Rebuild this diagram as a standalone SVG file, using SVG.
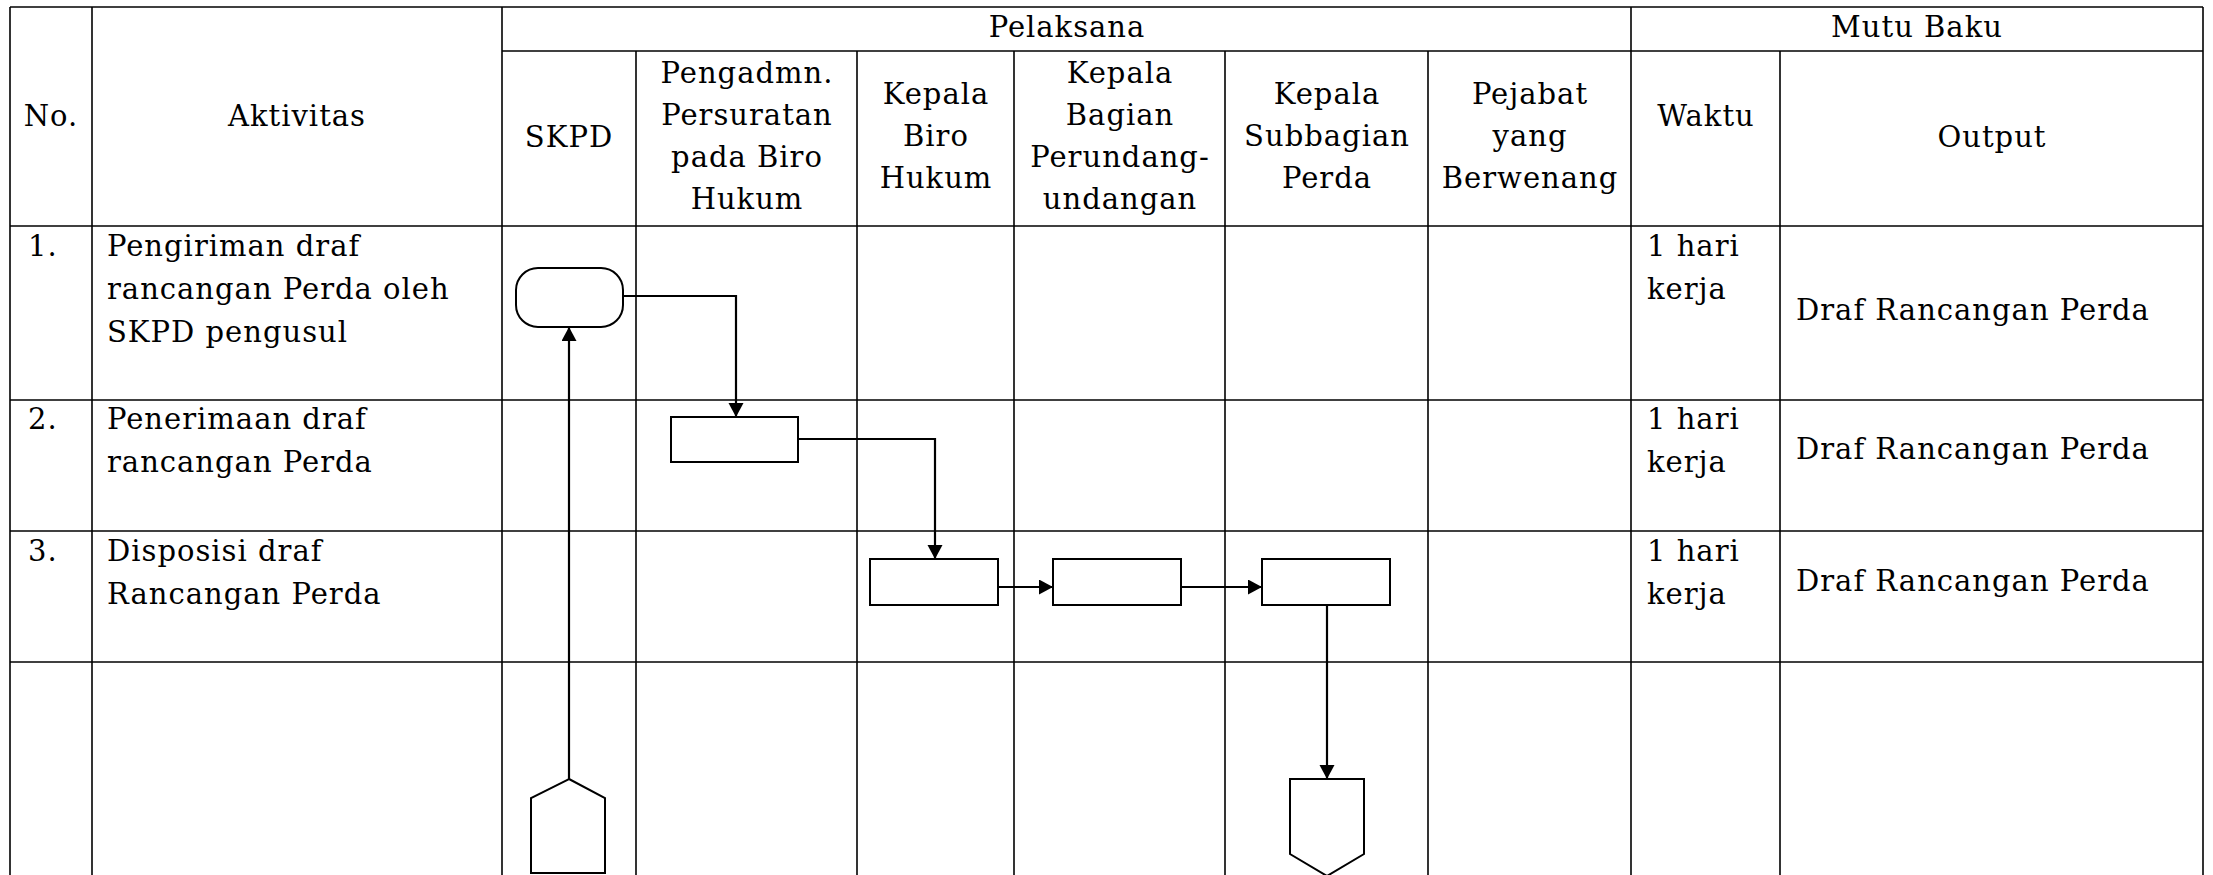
<svg xmlns="http://www.w3.org/2000/svg" width="2213" height="875" viewBox="0 0 2213 875">
  <style>
    .grid { stroke: #000; stroke-width: 1.6; fill: none; }
    .shape { stroke: #000; stroke-width: 2; fill: #fff; }
    .conn { stroke: #000; stroke-width: 2.2; fill: none; }
    text { font-family: "DejaVu Serif", "Liberation Serif", serif; font-size: 29px; letter-spacing: 1px; fill: #000; }
    .c { text-anchor: middle; }
  </style>
  <defs>
    <marker id="arrow" markerUnits="userSpaceOnUse" markerWidth="16" markerHeight="16" refX="14" refY="7.5" orient="auto">
      <path d="M0,0 L14,7.5 L0,15 Z" fill="#000"/>
    </marker>
  </defs>

  <rect width="2213" height="875" fill="#fff"/>

  <!-- table rules -->
  <g id="table" class="grid">
    <line x1="10" y1="7" x2="2203" y2="7"/>
    <line x1="502" y1="51" x2="2203" y2="51"/>
    <line x1="10" y1="226" x2="2203" y2="226"/>
    <line x1="10" y1="400" x2="2203" y2="400"/>
    <line x1="10" y1="531" x2="2203" y2="531"/>
    <line x1="10" y1="662" x2="2203" y2="662"/>
    <line x1="10" y1="7" x2="10" y2="875"/>
    <line x1="92" y1="7" x2="92" y2="875"/>
    <line x1="502" y1="7" x2="502" y2="875"/>
    <line x1="636" y1="51" x2="636" y2="875"/>
    <line x1="857" y1="51" x2="857" y2="875"/>
    <line x1="1014" y1="51" x2="1014" y2="875"/>
    <line x1="1225" y1="51" x2="1225" y2="875"/>
    <line x1="1428" y1="51" x2="1428" y2="875"/>
    <line x1="1631" y1="7" x2="1631" y2="875"/>
    <line x1="1780" y1="51" x2="1780" y2="875"/>
    <line x1="2203" y1="7" x2="2203" y2="875"/>
  </g>

  <!-- column headings -->
  <g id="header">
    <text class="c" x="51" y="126">No.</text>
    <text class="c" x="297" y="126">Aktivitas</text>
    <text class="c" x="1067" y="37">Pelaksana</text>
    <text class="c" x="1917" y="37">Mutu Baku</text>
    <text class="c" x="569" y="147">SKPD</text>
    <text class="c" x="747" y="83">Pengadmn.</text>
    <text class="c" x="747" y="125">Persuratan</text>
    <text class="c" x="747" y="167">pada Biro</text>
    <text class="c" x="747" y="209">Hukum</text>
    <text class="c" x="936" y="104">Kepala</text>
    <text class="c" x="936" y="146">Biro</text>
    <text class="c" x="936" y="188">Hukum</text>
    <text class="c" x="1120" y="83">Kepala</text>
    <text class="c" x="1120" y="125">Bagian</text>
    <text class="c" x="1120" y="167">Perundang-</text>
    <text class="c" x="1120" y="209">undangan</text>
    <text class="c" x="1327" y="104">Kepala</text>
    <text class="c" x="1327" y="146">Subbagian</text>
    <text class="c" x="1327" y="188">Perda</text>
    <text class="c" x="1530" y="104">Pejabat</text>
    <text class="c" x="1530" y="146">yang</text>
    <text class="c" x="1530" y="188">Berwenang</text>
    <text class="c" x="1706" y="126">Waktu</text>
    <text class="c" x="1992" y="147">Output</text>
  </g>

  <!-- activity rows -->
  <g id="row1">
    <text x="28" y="256">1.</text>
    <text x="107" y="256">Pengiriman draf</text>
    <text x="107" y="299">rancangan Perda oleh</text>
    <text x="107" y="342">SKPD pengusul</text>
    <text x="1647" y="256">1 hari</text>
    <text x="1647" y="299">kerja</text>
    <text x="1796" y="320">Draf Rancangan Perda</text>
  </g>
  <g id="row2">
    <text x="28" y="429">2.</text>
    <text x="107" y="429">Penerimaan draf</text>
    <text x="107" y="472">rancangan Perda</text>
    <text x="1647" y="429">1 hari</text>
    <text x="1647" y="472">kerja</text>
    <text x="1796" y="459">Draf Rancangan Perda</text>
  </g>
  <g id="row3">
    <text x="28" y="561">3.</text>
    <text x="107" y="561">Disposisi draf</text>
    <text x="107" y="604">Rancangan Perda</text>
    <text x="1647" y="561">1 hari</text>
    <text x="1647" y="604">kerja</text>
    <text x="1796" y="591">Draf Rancangan Perda</text>
  </g>

  <!-- flow connectors -->
  <g id="connectors" class="conn">
    <path d="M569,779 L569,327" marker-end="url(#arrow)"/>
    <path d="M623,296 L736,296 L736,417" marker-end="url(#arrow)"/>
    <path d="M798,439 L935,439 L935,559" marker-end="url(#arrow)"/>
    <path d="M998,587 L1053,587" marker-end="url(#arrow)"/>
    <path d="M1181,587 L1262,587" marker-end="url(#arrow)"/>
    <path d="M1327,605 L1327,779" marker-end="url(#arrow)"/>
  </g>

  <!-- flow symbols -->
  <g id="start-skpd">
    <rect class="shape" x="516" y="268" width="107" height="59" rx="22" ry="22"/>
  </g>
  <g id="receive-admin">
    <rect class="shape" x="671" y="417" width="127" height="45"/>
  </g>
  <g id="dispose-biro">
    <rect class="shape" x="870" y="559" width="128" height="46"/>
  </g>
  <g id="dispose-bagian">
    <rect class="shape" x="1053" y="559" width="128" height="46"/>
  </g>
  <g id="dispose-subbagian">
    <rect class="shape" x="1262" y="559" width="128" height="46"/>
  </g>
  <g id="offpage-in">
    <path class="shape" d="M569,779 L605,798 L605,873 L531,873 L531,798 Z"/>
  </g>
  <g id="offpage-out">
    <path class="shape" d="M1290,779 L1364,779 L1364,854 L1327,876 L1290,854 Z"/>
  </g>
</svg>
